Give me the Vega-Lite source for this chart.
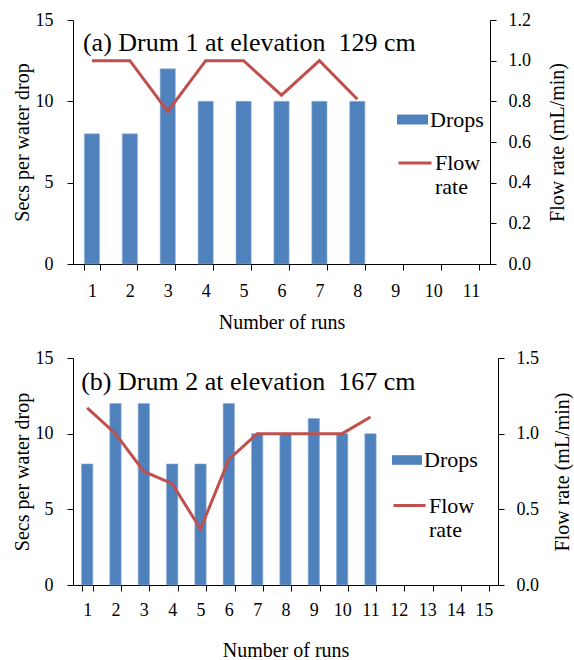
{
  "$schema": "https://vega.github.io/schema/vega-lite/v6.json",
  "padding": {"left": 12, "top": 11, "right": 0, "bottom": 0},
  "background": "white",
  "config": {
    "font": "Liberation Serif",
    "view": {"stroke": null},
    "axis": {"domainColor": "#000", "tickColor": "#000", "labelColor": "#000", "titleColor": "#000", "labelFont": "Liberation Serif", "titleFont": "Liberation Serif", "labelFontSize": 18, "titleFontSize": 20, "titleFontWeight": "normal", "grid": false, "tickSize": 6},
    "legend": {"labelFont": "Liberation Serif", "labelFontSize": 22, "labelColor": "#000"},
    "text": {"font": "Liberation Serif"}
  },
  "datasets": {
    "a": [
      {"run": 1, "drops": 8, "flow": 1.0},
      {"run": 2, "drops": 8, "flow": 1.0},
      {"run": 3, "drops": 12, "flow": 0.75},
      {"run": 4, "drops": 10, "flow": 1.0},
      {"run": 5, "drops": 10, "flow": 1.0},
      {"run": 6, "drops": 10, "flow": 0.83},
      {"run": 7, "drops": 10, "flow": 1.0},
      {"run": 8, "drops": 10, "flow": 0.81}
    ],
    "b": [
      {"run": 1, "drops": 8, "flow": 1.17},
      {"run": 2, "drops": 12, "flow": 1.0},
      {"run": 3, "drops": 12, "flow": 0.75},
      {"run": 4, "drops": 8, "flow": 0.67},
      {"run": 5, "drops": 8, "flow": 0.37},
      {"run": 6, "drops": 12, "flow": 0.83},
      {"run": 7, "drops": 10, "flow": 1.0},
      {"run": 8, "drops": 10, "flow": 1.0},
      {"run": 9, "drops": 11, "flow": 1.0},
      {"run": 10, "drops": 10, "flow": 1.0},
      {"run": 11, "drops": 10, "flow": 1.11}
    ],
    "ta": [{"label": "(a) Drum 1 at elevation\u00a0 129 cm"}],
    "tb": [{"label": "(b) Drum 2 at elevation\u00a0 167 cm"}]
  },
  "vconcat": [
    {
      "width": 417,
      "height": 244,
      "layer": [
        {
          "data": {"name": "a"},
          "mark": {"type": "bar", "stroke": "#8fb0d8", "strokeWidth": 0.6},
          "encoding": {
            "x": {"field": "run", "type": "ordinal", "scale": {"domain": [1,2,3,4,5,6,7,8,9,10,11], "paddingInner": 0.6, "paddingOuter": 0.3}, "axis": {"title": "Number of runs", "labelAngle": 0, "tickBand": "extent", "labelPadding": 12, "titlePadding": 12, "labelFont": "Liberation Serif", "titleFont": "Liberation Serif"}},
            "y": {"field": "drops", "type": "quantitative", "scale": {"domain": [0, 15]}, "axis": {"title": "Secs per water drop", "values": [0,5,10,15], "labelPadding": 14, "titlePadding": 3, "labelFont": "Liberation Serif", "titleFont": "Liberation Serif"}},
            "fill": {"datum": "Drops", "scale": {"range": ["#4F81BD"]}, "legend": {"title": null, "orient": "none", "legendX": 324, "legendY": 84, "padding": 0, "symbolType": "M-1,-0.32H1V0.32H-1Z", "symbolSize": 961, "symbolStrokeWidth": 0, "labelOffset": 2, "labelFont": "Liberation Serif"}}
          }
        },
        {
          "data": {"name": "a"},
          "mark": {"type": "line", "strokeWidth": 3},
          "encoding": {
            "x": {"field": "run", "type": "ordinal"},
            "y": {"field": "flow", "type": "quantitative", "scale": {"domain": [0, 1.2]}, "axis": {"orient": "right", "title": "Flow rate (mL/min)", "titleAngle": 270, "titleBaseline": "top", "format": ".1f", "values": [0,0.2,0.4,0.6,0.8,1.0,1.2], "labelPadding": 12, "titlePadding": 17, "labelFont": "Liberation Serif", "titleFont": "Liberation Serif"}},
            "stroke": {"datum": "Flow rate", "scale": {"range": ["#C0504D"]}, "legend": {"title": null, "orient": "none", "legendX": 324, "legendY": 125, "padding": 0, "symbolType": "stroke", "symbolSize": 1089, "symbolStrokeWidth": 3, "labelOffset": 2, "labelExpr": "datum.label == 'Flow rate' ? ['Flow', 'rate'] : datum.label", "labelBaseline": "middle", "labelFont": "Liberation Serif"}}
          }
        },
        {
          "data": {"name": "ta"},
          "mark": {"type": "text", "align": "left", "baseline": "alphabetic", "fontSize": 26, "dx": -9, "font": "Liberation Serif", "color": "#000"},
          "encoding": {
            "x": {"datum": 1, "type": "ordinal"},
            "y": {"datum": 13.1, "type": "quantitative", "scale": {"domain": [0, 15]}, "axis": null},
            "text": {"field": "label"}
          }
        }
      ],
      "resolve": {"scale": {"y": "independent"}}
    },
    {
      "width": 425,
      "height": 227,
      "layer": [
        {
          "data": {"name": "b"},
          "mark": {"type": "bar", "stroke": "#8fb0d8", "strokeWidth": 0.6},
          "encoding": {
            "x": {"field": "run", "type": "ordinal", "scale": {"domain": [1,2,3,4,5,6,7,8,9,10,11,12,13,14,15], "paddingInner": 0.6, "paddingOuter": 0.3}, "axis": {"title": "Number of runs", "labelAngle": 0, "tickBand": "extent", "labelPadding": 10, "titlePadding": 21, "labelFont": "Liberation Serif", "titleFont": "Liberation Serif"}},
            "y": {"field": "drops", "type": "quantitative", "scale": {"domain": [0, 15]}, "axis": {"title": "Secs per water drop", "values": [0,5,10,15], "labelPadding": 14, "titlePadding": 3, "labelFont": "Liberation Serif", "titleFont": "Liberation Serif"}},
            "fill": {"datum": "Drops", "scale": {"range": ["#4F81BD"]}, "legend": {"title": null, "orient": "none", "legendX": 319, "legendY": 87, "padding": 0, "symbolType": "M-1,-0.32H1V0.32H-1Z", "symbolSize": 900, "symbolStrokeWidth": 0, "labelOffset": 2, "labelFont": "Liberation Serif"}}
          }
        },
        {
          "data": {"name": "b"},
          "mark": {"type": "line", "strokeWidth": 3},
          "encoding": {
            "x": {"field": "run", "type": "ordinal"},
            "y": {"field": "flow", "type": "quantitative", "scale": {"domain": [0, 1.5]}, "axis": {"orient": "right", "title": "Flow rate (mL/min)", "titleAngle": 270, "titleBaseline": "top", "format": ".1f", "values": [0,0.5,1.0,1.5], "labelPadding": 12, "titlePadding": 14, "labelFont": "Liberation Serif", "titleFont": "Liberation Serif"}},
            "stroke": {"datum": "Flow rate", "scale": {"range": ["#C0504D"]}, "legend": {"title": null, "orient": "none", "legendX": 319, "legendY": 130, "padding": 0, "symbolType": "stroke", "symbolSize": 1024, "symbolStrokeWidth": 3, "labelOffset": 2, "labelExpr": "datum.label == 'Flow rate' ? ['Flow', 'rate'] : datum.label", "labelBaseline": "middle", "labelFont": "Liberation Serif"}}
          }
        },
        {
          "data": {"name": "tb"},
          "mark": {"type": "text", "align": "left", "baseline": "alphabetic", "fontSize": 26, "dx": -6, "font": "Liberation Serif", "color": "#000"},
          "encoding": {
            "x": {"datum": 1, "type": "ordinal"},
            "y": {"datum": 12.9, "type": "quantitative", "scale": {"domain": [0, 15]}, "axis": null},
            "text": {"field": "label"}
          }
        }
      ],
      "resolve": {"scale": {"y": "independent"}}
    }
  ],
  "spacing": 17,
  "resolve": {"scale": {"fill": "independent", "stroke": "independent"}}
}
